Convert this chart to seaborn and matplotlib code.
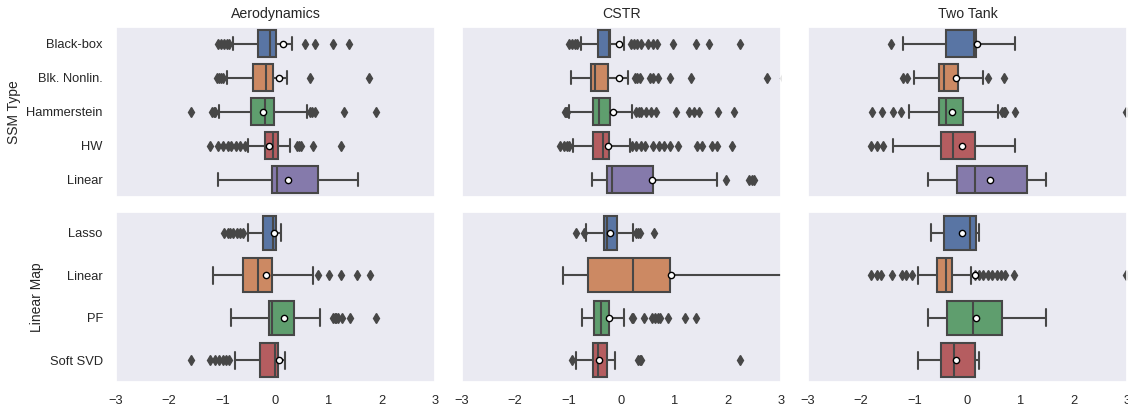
import matplotlib
matplotlib.use("Agg")
import matplotlib.pyplot as plt
import pandas as pd
import seaborn as sns

# Categories
DATASETS = ["Aerodynamics", "CSTR", "Two Tank"]
SSM_TYPES = ["Black-box", "Blk. Nonlin.", "Hammerstein", "HW", "Linear"]
LINEAR_MAPS = ["Lasso", "Linear", "PF", "Soft SVD"]
X_TICKS = [-3, -2, -1, 0, 1, 2, 3]

# Aerodynamics - SSM type
AERO_BLACKBOX = [-1.09, -1.03, -0.97, -0.91, -0.87, -0.79, -0.33, -0.28, -0.24, -0.20, -0.16, -0.13,
                 -0.10, -0.08, -0.06, -0.04, -0.02, 0.00, 0.01, 0.31, 0.55, 0.75, 1.08, 1.39, 6.71]
AERO_BLK_NONLIN = [-1.10, -1.06, -1.02, -0.98, -0.91, -0.415, -0.37, -0.31, -0.25, -0.21, -0.18,
                   -0.15, -0.12, -0.09, -0.07, -0.05, 0.08, 0.21, 0.64, 1.76, 5.92]
AERO_HAMMERSTEIN = [-3.68, -1.58, -1.19, -1.15, -1.13, -1.06, -0.465, -0.24, -0.23, -0.22, -0.21, -0.21,
                    -0.20, -0.06, -0.05, -0.05, -0.04, -0.04, -0.03, 0.60, 0.64, 0.68, 0.74, 1.28, 1.89]
AERO_HW = [-1.24, -1.09, -0.98, -0.90, -0.83, -0.74, -0.66, -0.58, -0.52, -0.195, -0.18, -0.16, -0.14,
           -0.12, -0.10, -0.08, -0.06, -0.05, -0.04, -0.03, -0.02, -0.01, 0.00, 0.01, 0.02, 0.03, 0.03,
           0.04, 0.10, 0.16, 0.22, 0.28, 0.40, 0.44, 0.48, 0.70, 1.24]
AERO_LINEAR = [-1.09, -0.50, -0.057, 0.00, 0.025, 0.40, 0.79, 0.92, 1.55]

# Aerodynamics - linear map
AERO_LASSO = [-0.96, -0.90, -0.85, -0.80, -0.72, -0.66, -0.62, -0.52, -0.24, -0.20, -0.16, -0.12, -0.09,
              -0.07, -0.06, -0.05, -0.04, -0.035, -0.03, -0.025, -0.02, -0.015, -0.01, -0.005, 0.00,
              0.02, 0.04, 0.06, 0.08, 0.09, 0.10, 0.107, 6.04]
AERO_LM_LINEAR = [-1.18, -1.15, -1.12, -1.10, -1.05, -1.00, -0.61, -0.60, -0.59, -0.57, -0.55, -0.52,
                  -0.32, -0.30, -0.27, -0.24, -0.20, -0.11, -0.07, 0.71, 0.79, 1.01, 1.23, 1.54, 1.77]
AERO_PF = [-0.83, -0.80, -0.70, -0.65, -0.60, -0.50, -0.40, -0.30, -0.13, -0.12, -0.11, -0.10, -0.09,
           -0.08, -0.07, -0.06, -0.057, -0.05, 0.00, 0.05, 0.10, 0.15, 0.20, 0.30, 0.35, 0.83, 1.08,
           1.11, 1.14, 1.18, 1.25, 1.40, 1.89]
AERO_SOFT_SVD = [-1.58, -1.24, -1.13, -1.06, -0.99, -0.93, -0.87, -0.77, -0.30, -0.25, -0.20, -0.15,
                 -0.10, -0.06, -0.03, -0.02, -0.013, 0.00, 0.01, 0.02, 0.03, 0.035, 0.04, 0.045, 0.05,
                 0.07, 0.09, 0.11, 0.13, 0.15, 0.17, 0.18, 10.64]

# CSTR - SSM type
CSTR_BLACKBOX = [-0.99, -0.93, -0.88, -0.83, -0.76, -0.72, -0.68, -0.63, -0.60, -0.58, -0.53, -0.49,
                 -0.46, -0.447, -0.43, -0.41, -0.39, -0.37, -0.35, -0.33, -0.31, -0.30, -0.29, -0.27,
                 -0.26, -0.25, -0.24, -0.238, -0.235, -0.232, -0.23, -0.228, -0.225, -0.225, -0.222,
                 -0.22, -0.217, -0.215, -0.212, -0.21, 0.044, 0.17, 0.23, 0.29, 0.36, 0.50, 0.60, 0.66,
                 0.96, 1.40, 1.65, 2.23, 5.42]
CSTR_BLK_NONLIN = [-0.95, -0.83, -0.80, -0.77, -0.74, -0.72, -0.70, -0.68, -0.66, -0.63, -0.60, -0.57,
                   -0.57, -0.55, -0.55, -0.54, -0.54, -0.53, -0.53, -0.53, -0.52, -0.52, -0.51, -0.51,
                   -0.50, -0.48, -0.46, -0.44, -0.42, -0.40, -0.38, -0.36, -0.34, -0.32, -0.30, -0.28,
                   -0.245, 0.12, 0.25, 0.30, 0.35, 0.53, 0.60, 0.68, 0.91, 1.30, 2.74, 3.04, 6.71]
CSTR_HAMMERSTEIN = [-1.07, -1.04, -1.02, -0.98, -0.65, -0.65, -0.65, -0.65, -0.65, -0.65, -0.65, -0.65,
                    -0.65, -0.53, -0.47, -0.47, -0.47, -0.47, -0.47, -0.47, -0.47, -0.47, -0.47, -0.47,
                    -0.47, -0.47, -0.42, -0.30, -0.30, -0.30, -0.30, -0.30, -0.30, -0.30, -0.30, -0.30,
                    -0.30, -0.30, -0.30, -0.21, 0.20, 0.28, 0.32, 0.36, 0.47, 0.55, 0.65, 1.02, 1.27,
                    1.37, 1.46, 1.82, 2.11]
CSTR_HW = [-3.40, -1.15, -1.09, -1.03, -0.98, -0.92, -0.90, -0.90, -0.90, -0.90, -0.90, -0.90, -0.90,
           -0.90, -0.90, -0.53, -0.52, -0.52, -0.52, -0.52, -0.52, -0.52, -0.52, -0.52, -0.52, -0.52,
           -0.52, -0.52, -0.52, -0.52, -0.35, -0.345, -0.345, -0.345, -0.345, -0.345, -0.345, -0.345,
           -0.345, -0.345, -0.345, -0.345, -0.345, -0.345, -0.345, -0.24, 0.16, 0.20, 0.28, 0.36,
           0.45, 0.60, 0.70, 0.79, 0.92, 1.06, 1.42, 1.52, 1.70, 1.80, 2.08]
CSTR_LINEAR = [-0.55, -0.40, -0.40, -0.40, -0.40, -0.40, -0.27, -0.22, -0.22, -0.22, -0.22, -0.22,
               -0.176, 0.30, 0.30, 0.30, 0.30, 0.30, 0.60, 1.79, 1.97, 2.40, 2.45, 2.50, 5.04]

# CSTR - linear map
CSTR_LASSO = [-0.85, -0.71, -0.66, -0.64, -0.64, -0.33, -0.32, -0.32, -0.32, -0.32, -0.264, -0.23,
              -0.23, -0.23, -0.23, -0.09, 0.22, 0.28, 0.31, 0.34, 0.62]
CSTR_LM_LINEAR = [-1.10, -0.90, -0.63, -0.20, 0.21, 0.60, 0.92, 3.20, 6.36]
CSTR_PF = [-0.74, -0.70, -0.70, -0.70, -0.70, -0.70, -0.70, -0.70, -0.70, -0.70, -0.70, -0.51, -0.50,
           -0.50, -0.50, -0.50, -0.50, -0.50, -0.50, -0.50, -0.50, -0.50, -0.384, -0.33, -0.33, -0.33,
           -0.33, -0.33, -0.33, -0.33, -0.33, -0.33, -0.33, -0.233, 0.044, 0.19, 0.22, 0.43, 0.58,
           0.63, 0.68, 0.73, 0.88, 1.19, 1.40]
CSTR_SOFT_SVD = [-3.99, -0.94, -0.85, -0.80, -0.80, -0.535, -0.48, -0.48, -0.48, -0.48, -0.434, -0.35,
                 -0.35, -0.35, -0.35, -0.277, -0.12, 0.31, 0.34, 0.37, 2.23]

# Two Tank - SSM type
TANK_BLACKBOX = [-1.44, -1.22, -0.405, -0.30, 0.116, 0.12, 0.154, 0.90, 3.68]
TANK_BLK_NONLIN = [-1.21, -1.13, -1.01, -1.00, -0.53, -0.52, -0.52, -0.52, -0.443, -0.42, -0.42, -0.42,
                   -0.186, 0.286, 0.39, 0.68, 3.28]
TANK_HAMMERSTEIN = [-1.79, -1.61, -1.41, -1.26, -1.10, -1.05, -0.544, -0.53, -0.53, -0.53, -0.53, -0.53,
                    -0.41, -0.40, -0.40, -0.40, -0.40, -0.40, -0.079, 0.57, 0.64, 0.68, 0.71, 0.89, 2.98]
TANK_HW = [-1.81, -1.70, -1.58, -1.405, -0.506, -0.40, -0.40, -0.40, -0.28, 0.00, 0.00, 0.00, 0.148,
           0.50, 0.50, 0.89, 4.74]
TANK_LINEAR = [-0.75, -0.50, -0.204, 0.00, 0.135, 1.10, 1.116, 1.45, 1.48]

# Two Tank - linear map
TANK_LASSO = [-0.695, -0.60, -0.437, 0.025, 0.04, 0.10, 0.154, 0.20, 0.223]
TANK_LM_LINEAR = [-1.81, -1.71, -1.62, -1.42, -1.24, -1.15, -1.05, -0.93, -0.70, -0.70, -0.70, -0.70,
                  -0.57, -0.50, -0.50, -0.50, -0.50, -0.50, -0.50, -0.50, -0.50, -0.50, -0.50, -0.50,
                  -0.41, -0.35, -0.35, -0.35, -0.35, -0.35, -0.35, -0.35, -0.35, -0.35, -0.35, -0.35,
                  -0.30, 0.06, 0.14, 0.22, 0.30, 0.38, 0.46, 0.55, 0.63, 0.71, 0.88, 2.98, 23.92]
TANK_PF = [-0.74, -0.60, -0.38, -0.10, 0.10, 0.30, 0.645, 0.80, 1.48]
TANK_SOFT_SVD = [-0.93, -0.55, -0.50, -0.37, -0.25, 0.14, 0.148, 0.20, 0.223]

SSM_SAMPLES = {
    "Aerodynamics": [AERO_BLACKBOX, AERO_BLK_NONLIN, AERO_HAMMERSTEIN, AERO_HW, AERO_LINEAR],
    "CSTR": [CSTR_BLACKBOX, CSTR_BLK_NONLIN, CSTR_HAMMERSTEIN, CSTR_HW, CSTR_LINEAR],
    "Two Tank": [TANK_BLACKBOX, TANK_BLK_NONLIN, TANK_HAMMERSTEIN, TANK_HW, TANK_LINEAR],
}
LM_SAMPLES = {
    "Aerodynamics": [AERO_LASSO, AERO_LM_LINEAR, AERO_PF, AERO_SOFT_SVD],
    "CSTR": [CSTR_LASSO, CSTR_LM_LINEAR, CSTR_PF, CSTR_SOFT_SVD],
    "Two Tank": [TANK_LASSO, TANK_LM_LINEAR, TANK_PF, TANK_SOFT_SVD],
}


def to_frame(names, samples):
    rows = [(name, v) for name, vals in zip(names, samples) for v in vals]
    return pd.DataFrame(rows, columns=["model", "error"])


def main():
    sns.set_theme(style="dark")
    plt.rcParams["font.family"] = ["Liberation Sans", "DejaVu Sans"]

    gray = "#474747"
    W, H = 1128, 407
    fig = plt.figure(figsize=(W / 100, H / 100), dpi=100)

    lefts = [116, 462, 808]
    tops = [26.7, 211.7]
    panel_w, panel_h = 319, 170
    row_specs = [("SSM Type", SSM_TYPES, SSM_SAMPLES),
                 ("Linear Map", LINEAR_MAPS, LM_SAMPLES)]

    for r, (ylabel, names, table) in enumerate(row_specs):
        for c, ds in enumerate(DATASETS):
            ax = fig.add_axes([lefts[c] / W, (H - tops[r] - panel_h) / H,
                               panel_w / W, panel_h / H])
            df = to_frame(names, table[ds])
            sns.boxplot(data=df, x="error", y="model", hue="model",
                        order=names, hue_order=names, palette="deep",
                        saturation=0.75, width=0.8, linewidth=1.5,
                        linecolor=gray, legend=False, showmeans=True,
                        meanprops=dict(marker="o", markerfacecolor="white",
                                       markeredgecolor="black", markersize=4.5,
                                       markeredgewidth=1),
                        flierprops=dict(marker="d", markerfacecolor=gray,
                                        markeredgecolor=gray, markersize=5.5),
                        ax=ax)
            ax.set_xlim(-3, 3)
            ax.set_xticks(X_TICKS)
            ax.set_xlabel("")
            ax.tick_params(labelsize=9.3)
            if r == 0:
                ax.set_title(ds, fontsize=10.2)
                ax.set_xticklabels([])
            if c == 0:
                ax.set_ylabel(ylabel, fontsize=10)
            else:
                ax.set_ylabel("")
                ax.set_yticklabels([])

    fig.savefig("out.png", dpi=100)
    plt.close(fig)


if __name__ == "__main__":
    main()
